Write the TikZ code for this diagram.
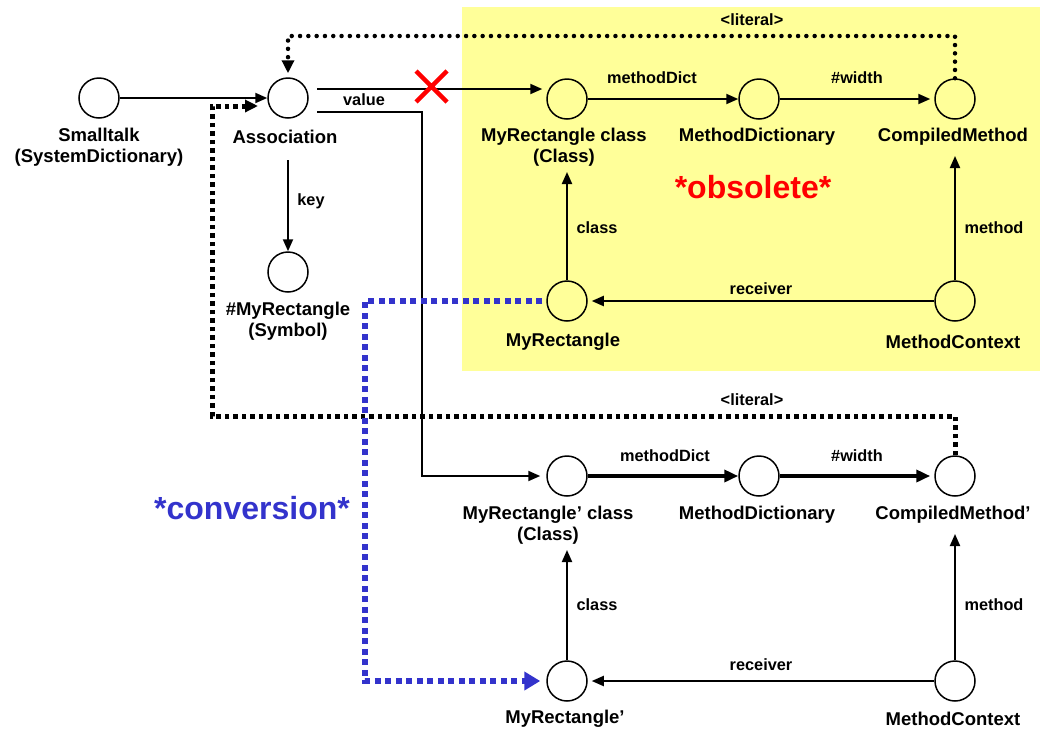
\documentclass[tikz,border=0pt]{standalone}
\usepackage{fontspec}
\setmainfont{Liberation Sans}
\usetikzlibrary{arrows.meta,calc}
\definecolor{ylw}{HTML}{FFFF99}
\definecolor{blu}{HTML}{3333CC}
\begin{document}
\begin{tikzpicture}[x=1pt,y=-1pt,
  obj/.style={circle,draw,line width=1.5pt,minimum size=40pt,inner sep=0pt},
  lbl/.style={font=\bfseries\fontsize{18.5}{21}\selectfont,align=center,inner sep=0pt},
  elbl/.style={font=\bfseries\fontsize{16.3}{18}\selectfont,inner sep=0pt},
  arr/.style={line width=2pt,-{Triangle[length=12pt,width=10pt]}},
  tarr/.style={line width=3.5pt,-{Triangle[length=14pt,width=12pt]}},
  rdot/.style={line width=4.5pt,line cap=round,dash pattern=on 0pt off 8.3pt,-{Triangle[length=13pt,width=12pt]}},
  sdot/.style={line width=5pt,dash pattern=on 4.5pt off 4pt,-{Triangle[length=13pt,width=12pt]}},
  bdot/.style={line width=6pt,color=blu,dash pattern=on 6pt off 4.5pt,-{Triangle[length=16pt,width=18pt]}}
]
\useasboundingbox (0,0) rectangle (1041,729);
\fill[ylw] (462,7) rectangle (1040,371);

% nodes
\node[obj] (st) at (99,98) {};
\node[obj] (as) at (288,98) {};
\node[obj] (sy) at (288,272) {};
\node[obj] (mc) at (567,99) {};
\node[obj] (md) at (759,99) {};
\node[obj] (cm) at (955,99) {};
\node[obj] (mr) at (567,301) {};
\node[obj] (cx) at (955,301) {};
\node[obj] (mc2) at (567,476) {};
\node[obj] (md2) at (759,476) {};
\node[obj] (cm2) at (955,476) {};
\node[obj] (mr2) at (567,681) {};
\node[obj] (cx2) at (955,681) {};

% labels
\node[lbl] (tst) at (99,147.5) {Smalltalk\\(SystemDictionary)};
\node[lbl] (tas) at (285,137) {Association};
\node[lbl] (tsy) at (288,321) {\#MyRectangle\\(Symbol)};
\node[lbl] (tmc) at (564,147.5) {MyRectangle class\\(Class)};
\node[lbl] (tmd) at (757,137) {MethodDictionary};
\node[lbl] (tcm) at (953,137) {CompiledMethod};
\node[lbl] (tmr) at (563,342) {MyRectangle};
\node[lbl] (tcx) at (953,342) {MethodContext};
\node[lbl] (tmc2) at (548,525) {MyRectangle’ class\\(Class)};
\node[lbl] (tmd2) at (757,515) {MethodDictionary};
\node[lbl] (tcm2) at (953,515) {CompiledMethod’};
\node[lbl] (tmr2) at (565,719) {MyRectangle’};
\node[lbl] (tcx2) at (953,719) {MethodContext};

\node[font=\bfseries\fontsize{32}{36}\selectfont,text=red,inner sep=0pt] (obs) at (753,187) {*obsolete*};
\node[font=\bfseries\fontsize{32}{36}\selectfont,text=blu,inner sep=0pt] (conv) at (252,508) {*conversion*};

% coordinates
\coordinate (vs) at (317,89);
\coordinate (vs2) at (317,112);
\coordinate (vc) at (422,112);
\coordinate (lt) at (288,36);
\coordinate (lb) at (212,416);
\coordinate (la) at (258,106);
\coordinate (bl) at (365,301);

% edges top
\draw[arr] (st) -- (as);
\draw[arr] (vs) -- ($(mc.west |- vs)+(-4,0)$);
\node[elbl] (lval) at (364,100) {value};
\draw[arr] (vs2) -- (vc) |- ($(mc2.west)+(-6,0)$);
\draw[arr] (288,160) -- (sy);
\node[elbl] (lkey) at (311,201) {key};
\draw[arr] (mc) -- (md);
\node[elbl] (lmd) at (652,78) {methodDict};
\draw[arr] (md) -- ($(cm.west)+(-4,0)$);
\node[elbl] (lw) at (857,78) {\#width};
\draw[arr] (mr) -- (567,172);
\node[elbl] (lcl) at (597,228) {class};
\draw[arr] (cx) -- (955,156);
\node[elbl] (lme) at (994,228) {method};
\draw[arr] (cx) -- ($(mr.east)+(4,0)$);
\node[elbl] (lre) at (761,289) {receiver};

% red X
\draw[red,line width=4.5pt] (416,71) -- (447,102) (416,102) -- (447,71);

% bottom edges
\draw[tarr] (mc2) -- (md2);
\node[elbl] (lmd2) at (665,456) {methodDict};
\draw[tarr] (md2) -- ($(cm2.west)+(-4,0)$);
\node[elbl] (lw2) at (857,456) {\#width};
\draw[arr] (mr2) -- (567,550);
\node[elbl] (lcl2) at (597,605) {class};
\draw[arr] (cx2) -- (955,534);
\node[elbl] (lme2) at (994,605) {method};
\draw[arr] (cx2) -- ($(mr2.east)+(4,0)$);
\node[elbl] (lre2) at (761,665) {receiver};

% dotted literal links
\draw[rdot] (cm.north) |- (lt) -- ($(as.north)+(0,-4)$);
\node[elbl] (lit1) at (752,20) {<literal>};
\draw[sdot] (cm2.north) |- (lb) |- (la);
\node[elbl] (lit2) at (752,400) {<literal>};

% blue conversion
\draw[bdot] ($(mr.west)+(-4,0)$) -- (bl) |- ($(mr2.west)+(-6,0)$);
\end{tikzpicture}
\end{document}
